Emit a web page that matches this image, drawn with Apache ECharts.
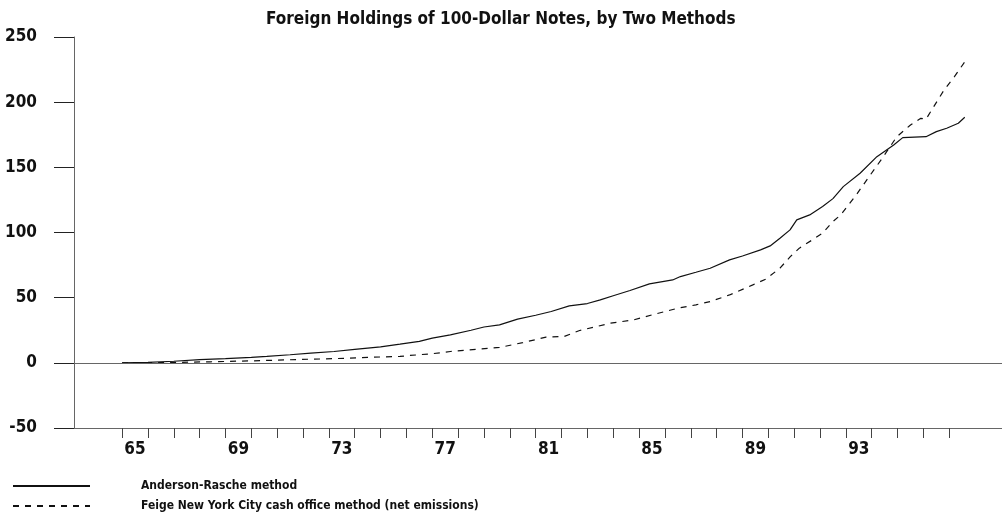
<!DOCTYPE html>
<html>
<head>
<meta charset="utf-8">
<title>Foreign Holdings of 100-Dollar Notes</title>
<script src="https://cdn.jsdelivr.net/npm/echarts@6/dist/echarts.min.js"></script>
<style>
  html, body { margin: 0; padding: 0; background: #fff; }
  #chart { width: 1002px; height: 523px; }
</style>
</head>
<body>
<div id="chart"></div>
<script>
// Anderson-Rasche method (billions of dollars)
var andersonYears = [1965.0, 1966.0, 1967.0, 1968.0, 1969.0, 1970.0, 1970.6, 1971.5, 1972.3, 1973.2,
  1974.0, 1975.0, 1975.75, 1976.5, 1977.0, 1977.7, 1978.5, 1979.0, 1979.6, 1980.3,
  1981.0, 1981.6, 1982.3, 1983.0, 1983.5, 1984.0, 1984.65, 1985.4, 1986.3, 1986.6,
  1987.2, 1987.75, 1988.5, 1989.0, 1989.7, 1990.07, 1990.45, 1990.84, 1991.1, 1991.6,
  1992.1, 1992.5, 1992.9, 1993.55, 1994.2, 1994.85, 1995.2, 1996.1, 1996.5, 1996.9,
  1997.35, 1997.6];
var andersonValues = [0, 0.3, 1.2, 2.5, 3.2, 4.2, 4.9, 6.2, 7.4, 8.7,
  10.3, 12.3, 14.3, 16.5, 19, 21.5, 25, 27.5, 29.1, 33.5,
  36.5, 39.4, 43.7, 45.5, 48.3, 51.5, 55.5, 60.6, 63.6, 66.2,
  69.5, 72.6, 79, 82, 86.7, 89.7, 95.6, 102, 109.7, 113.5,
  119.9, 126, 135.2, 145.5, 158.2, 167.2, 172.8, 173.5, 177.4, 180,
  183.8, 188.4];

// Feige New York City cash office method (net emissions)
var feigeYears = [1965.0, 1967.0, 1968.4, 1970.0, 1972.3, 1973.2, 1974.5, 1975.75, 1976.1, 1977.0,
  1977.7, 1978.7, 1979.6, 1980.5, 1981.4, 1982.1, 1982.7, 1983.9, 1984.8, 1985.5,
  1986.5, 1987.2, 1987.75, 1988.5, 1989.4, 1989.9, 1990.45, 1990.85, 1991.2, 1991.7,
  1992.1, 1992.5, 1992.8, 1993.4, 1993.9, 1994.45, 1994.97, 1995.5, 1995.9, 1996.1,
  1996.4, 1996.8, 1997.2, 1997.6];
var feigeValues = [0, 0.3, 0.8, 1.5, 2.8, 3.2, 4.2, 4.9, 5.6, 7,
  8.7, 10.3, 11.8, 15.5, 19.7, 20.2, 24.8, 30.4, 33, 36.8,
  41.9, 44.5, 47, 52.1, 59.8, 64.2, 72.6, 81.5, 88, 94.3,
  99.5, 108.4, 113.5, 128.8, 142.9, 158.2, 173.5, 182.5, 187.6, 186.9,
  196.6, 209.4, 219.6, 231];

// x axis: one tick per year, labels every fourth year
var tickYears = [1965, 1966, 1967, 1968, 1969, 1970, 1971, 1972, 1973, 1974, 1975,
  1976, 1977, 1978, 1979, 1980, 1981, 1982, 1983, 1984, 1985, 1986,
  1987, 1988, 1989, 1990, 1991, 1992, 1993, 1994, 1995, 1996, 1997];
var xLabels = ['65', '69', '73', '77', '81', '85', '89', '93'];
var yTicks = [-50, 0, 50, 100, 150, 200, 250];

var FONT = "'Liberation Sans Narrow', 'Arial Narrow', 'DejaVu Sans Condensed', sans-serif";

function pairs(xs, ys) {
  var out = [];
  for (var i = 0; i < xs.length; i++) out.push([xs[i], ys[i]]);
  return out;
}

var chart = echarts.init(document.getElementById('chart'), null, { renderer: 'canvas' });
chart.setOption({
  animation: false,
  backgroundColor: '#fff',
  title: {
    text: 'Foreign Holdings of 100-Dollar Notes, by Two Methods',
    left: 261,
    top: 6,
    textStyle: { fontFamily: FONT, fontWeight: 'bold', fontSize: 17, color: '#111' }
  },
  legend: {
    orient: 'vertical',
    left: 12,
    top: 480,
    padding: 0,
    itemWidth: 77,
    itemHeight: 14,
    itemGap: 8,
    itemStyle: { opacity: 0 },
    textStyle: { fontFamily: FONT, fontWeight: 'bold', fontSize: 12, color: '#111', padding: [0, 0, 0, 46] },
    data: ['Anderson-Rasche method', 'Feige New York City cash office method (net emissions)']
  },
  grid: { left: 74, right: 0, top: 37, bottom: 95, containLabel: false },
  xAxis: [{
    type: 'value',
    min: 1963.14,
    max: 1999.04,
    position: 'bottom',
    axisLine: { onZero: false, lineStyle: { color: '#666', width: 1 } },
    axisTick: { show: true, length: 10, customValues: tickYears, lineStyle: { color: '#444' } },
    axisLabel: {
      customValues: xLabels.map(function (s) { return 1900 + Number(s) + 0.5; }),
      formatter: function (v) { return String(Math.floor(v)).slice(2); },
      margin: 13,
      fontFamily: FONT, fontWeight: 'bold', fontSize: 17, color: '#111'
    },
    splitLine: { show: false }
  }, {
    type: 'value',
    min: 1963.14,
    max: 1999.04,
    position: 'top',
    axisLine: { show: true, lineStyle: { color: '#000', width: 1 } },
    axisTick: { show: false },
    axisLabel: { show: false },
    splitLine: { show: false }
  }],
  yAxis: {
    type: 'value',
    min: -50,
    max: 250,
    interval: 50,
    axisLine: { show: true, lineStyle: { color: '#666', width: 1 } },
    axisTick: { show: true, length: 20, customValues: yTicks, lineStyle: { color: '#222' } },
    axisLabel: { margin: 37, fontFamily: FONT, fontWeight: 'bold', fontSize: 17, color: '#111' },
    splitLine: { show: false }
  },
  series: [{
    name: 'Anderson-Rasche method',
    type: 'line',
    symbol: 'none',
    data: pairs(andersonYears, andersonValues),
    lineStyle: { color: '#111', width: 1.2, type: 'solid' },
    itemStyle: { color: '#111' },
    markLine: {
      silent: true,
      symbol: 'none',
      label: { show: false },
      lineStyle: { color: '#666', width: 1, type: 'solid' },
      data: [{ yAxis: 0 }]
    }
  }, {
    name: 'Feige New York City cash office method (net emissions)',
    type: 'line',
    symbol: 'none',
    data: pairs(feigeYears, feigeValues),
    lineStyle: { color: '#111', width: 1.2, type: [6, 6] },
    itemStyle: { color: '#111' }
  }]
});
</script>
</body>
</html>
